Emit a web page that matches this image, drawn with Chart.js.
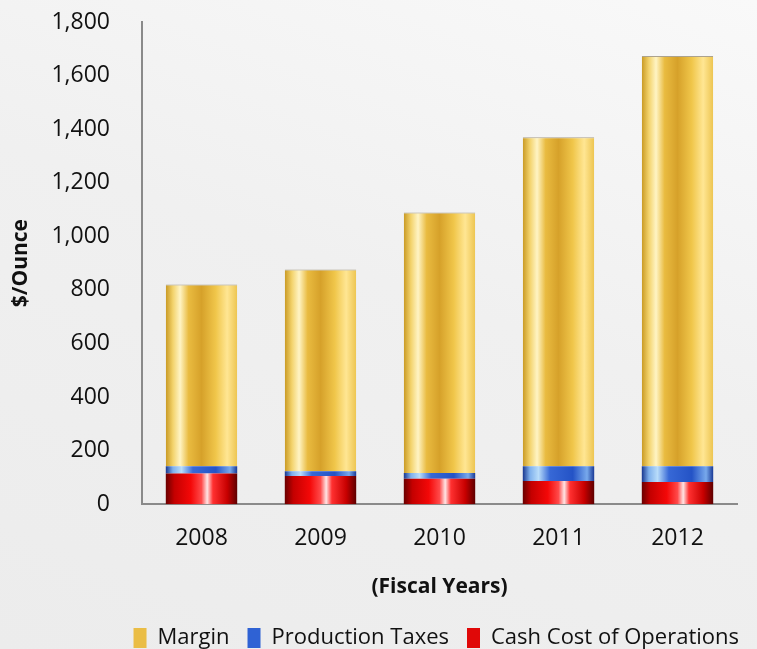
<!DOCTYPE html>
<html>
<head>
<meta charset="utf-8">
<script src="https://cdn.jsdelivr.net/npm/chart.js@4"></script>
<style>
  html, body { margin: 0; padding: 0; }
  body {
    width: 757px; height: 649px; overflow: hidden;
    background: linear-gradient(200deg, #f9f9f9 0%, #f0f0f0 45%, #ececec 100%);
  }
  #wrap { position: relative; width: 757px; height: 649px; }
</style>
</head>
<body>
<div id="wrap"><canvas id="costChart"></canvas></div>
<script>
// $/ounce per fiscal year, stacked bottom to top
var years = ['2008', '2009', '2010', '2011', '2012'];
var cashCost = [115, 105, 95, 87, 83];
var productionTaxes = [27, 18, 21, 55, 59];
var margin = [678, 753, 973, 1228, 1531];
var yTicks = [0, 200, 400, 600, 800, 1000, 1200, 1400, 1600, 1800];

// colour stops across the width of a bar, for the cylinder look
var goldStops = [[0, '#c99a24'], [0.1, '#f3d36c'], [0.2, '#fff4c4'], [0.32, '#e9bb40'],
                 [0.5, '#d6a12a'], [0.7, '#f0c64a'], [0.86, '#ffe693'], [1, '#edc551']];
var blueStops = [[0, '#18378f'], [0.1, '#7fb0ec'], [0.22, '#b8dcfa'], [0.38, '#3768d6'],
                 [0.7, '#2453c6'], [0.9, '#78a9ec'], [1, '#1a3a96']];
var redStops  = [[0, '#6a0000'], [0.12, '#c40000'], [0.35, '#f40808'], [0.5, '#ff4a4a'],
                 [0.58, '#ffe4e4'], [0.66, '#ff3030'], [0.86, '#c80000'], [1, '#5e0000']];
var legendFill = { 'Margin': '#eabd45', 'Production Taxes': '#2f62d4', 'Cash Cost of Operations': '#e00808' };

function barGradient(stops, flat) {
  return function(context) {
    if (context.dataIndex === undefined) return flat;
    var chart = context.chart;
    var xs = chart.scales.x;
    if (!xs || !chart.chartArea) return flat;
    var cx = xs.getPixelForValue(context.dataIndex);
    var half = (xs.width / years.length) * 0.6 / 2;
    var g = chart.ctx.createLinearGradient(cx - half, 0, cx + half, 0);
    stops.forEach(function(s) { g.addColorStop(s[0], s[1]); });
    return g;
  };
}

var baseFont = { family: 'Open Sans', size: 23 };

var ctx = document.getElementById('costChart').getContext('2d');
var chart = new Chart(ctx, {
  type: 'bar',
  data: {
    labels: years,
    datasets: [
      { label: 'Cash Cost of Operations', data: cashCost,
        backgroundColor: barGradient(redStops, '#d40000'), borderWidth: 0 },
      { label: 'Production Taxes', data: productionTaxes,
        backgroundColor: barGradient(blueStops, '#2f5fcf'), borderWidth: 0 },
      { label: 'Margin', data: margin,
        backgroundColor: barGradient(goldStops, '#e6b53a'),
        borderColor: 'rgba(140,125,95,0.7)',
        borderWidth: { top: 1, left: 0, right: 0, bottom: 0 }, borderSkipped: 'bottom' }
    ]
  },
  options: {
    responsive: true,
    maintainAspectRatio: false,
    animation: false,
    layout: { padding: { top: 22, right: 0, left: 0, bottom: -10 } },
    datasets: { bar: { categoryPercentage: 1.0, barPercentage: 0.6 } },
    plugins: {
      tooltip: { enabled: false },
      legend: {
        position: 'bottom',
        align: 'end',
        reverse: true,
        labels: {
          color: '#111',
          font: { family: 'Open Sans', size: 22 },
          boxWidth: 13,
          boxHeight: 20,
          padding: 18,
          generateLabels: function(chart) {
            var items = Chart.defaults.plugins.legend.labels.generateLabels(chart);
            items.forEach(function(it) {
              it.fillStyle = legendFill[it.text];
              it.strokeStyle = legendFill[it.text];
              it.lineWidth = 0;
            });
            return items;
          }
        }
      }
    },
    scales: {
      x: {
        stacked: true,
        grid: { display: false, drawTicks: false },
        border: { display: true, color: '#8a8a8a', width: 2 },
        ticks: { color: '#111', font: baseFont, padding: 20 },
        title: {
          display: true, text: '(Fiscal Years)', color: '#111',
          font: { family: 'Open Sans', size: 21, weight: 'bold' },
          padding: { top: 3, bottom: 9 }
        }
      },
      y: {
        stacked: true,
        min: 0,
        max: 1800,
        afterBuildTicks: function(scale) {
          scale.ticks = yTicks.map(function(v) { return { value: v }; });
        },
        afterFit: function(scale) {
          scale.width = 142;
          scale.paddingTop = 14;
          scale.paddingBottom = 14;
        },
        grid: { display: false, drawTicks: false },
        border: { display: true, color: '#8a8a8a', width: 2 },
        ticks: {
          color: '#111', font: baseFont, padding: 32,
          callback: function(v) { return v.toLocaleString('en-US'); }
        },
        title: {
          display: true, text: '$/Ounce', color: '#111',
          font: { family: 'Open Sans', size: 21, weight: 'bold' },
          padding: { top: 8, bottom: 10 }
        }
      },
      // empty strip on the right so the plot stops short of the edge
      yRight: {
        position: 'right',
        grid: { display: false, drawTicks: false },
        border: { display: false },
        ticks: { display: false },
        afterFit: function(scale) { scale.width = 20; }
      }
    }
  }
});
</script>
</body>
</html>
